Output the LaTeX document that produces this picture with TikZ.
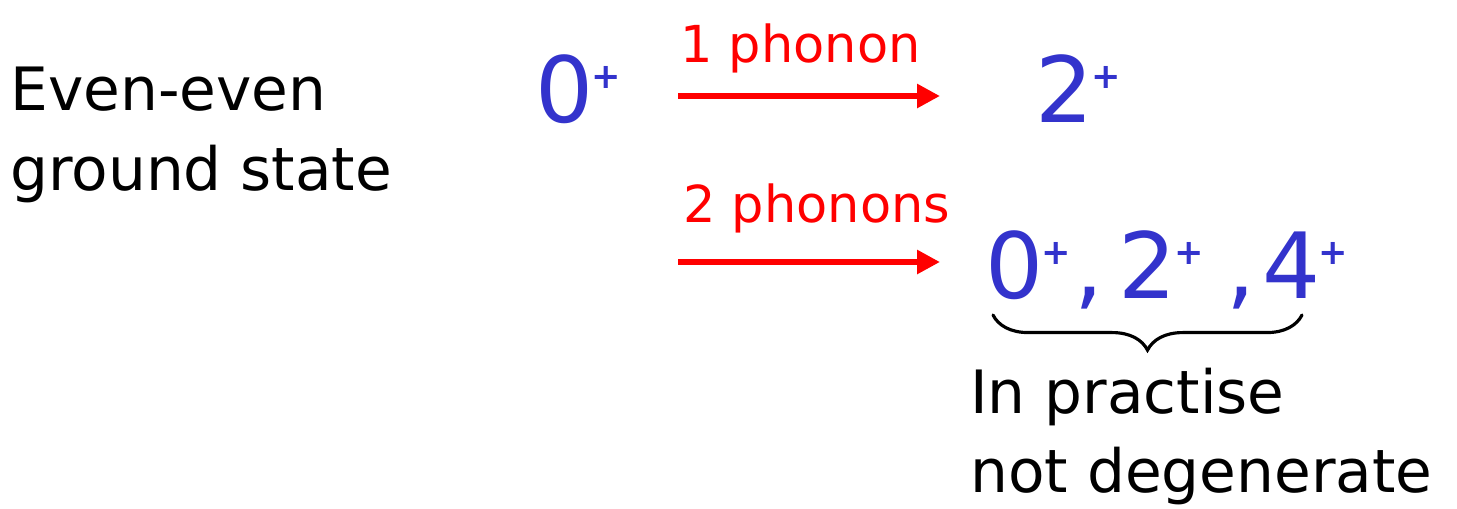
\documentclass[tikz,border=0pt]{standalone}
\usepackage{fontspec}
\setmainfont{DejaVu Sans}
\usepackage{xcolor}
\usetikzlibrary{arrows.meta}
\usetikzlibrary{decorations.pathreplacing}
\usetikzlibrary{positioning}
\definecolor{levelblue}{RGB}{51,51,204}
\newcommand{\parity}{\kern-1pt\raisebox{19pt}{\fontsize{20}{20}\bfseries\selectfont +}}
\begin{document}
\begin{tikzpicture}[x=0.02cm, y=-0.02cm,
  plaintext/.style={anchor=base west, inner sep=0pt, font=\fontsize{34}{40}\selectfont},
  level/.style={anchor=base west, inner sep=0pt, text=levelblue, font=\fontsize{52}{60}\selectfont},
  phonon/.style={anchor=base west, inner sep=0pt, text=red, font=\fontsize{29}{34}\selectfont},
  transition/.style={red, line width=3.4pt, -{Triangle[length=13pt,width=13pt]}},
  bracket/.style={line width=1.8pt, line cap=round, decorate, decoration={brace, mirror, amplitude=20pt}}]
\useasboundingbox (0,0) rectangle (1457,508);
% Ground state (text)
\node[plaintext] (even) at (10,110) {Even-even};
\node[plaintext] (ground) at (10,190) {ground state};
% Levels (nodes)
\node[level] (zero) at (535,122) {0\parity};
\node[level] (two) at (1035,122) {2\parity};
\node[level] (zeroB) at (985,298) {0\parity};
\node[level] (commaA) at (1074,298) {,};
\node[level] (twoB) at (1118,298) {2\parity};
\node[level] (commaB) at (1226,298) {,};
\node[level] (four) at (1262,298) {4\parity};
% Phonon labels
\node[phonon] (one) at (680,62) {1 phonon};
\node[phonon] (twoph) at (683,222) {2 phonons};
% Arrows (coordinates)
\coordinate (a1s) at (678,96);
\coordinate (a1e) at (940,96);
\coordinate (a2s) at (678,262);
\coordinate (a2e) at (940,262);
\draw[transition] (a1s) -- (a1e);
\draw[transition] (a2s) -- (a2e);
% Brace
\coordinate (bl) at (993,315);
\coordinate (br) at (1302,315);
\draw[bracket] (bl) -- (br);
\node[plaintext] (practise) at (970,413) {In practise};
\node[plaintext] (degen) at (970,492) {not degenerate};
\end{tikzpicture}
\end{document}
